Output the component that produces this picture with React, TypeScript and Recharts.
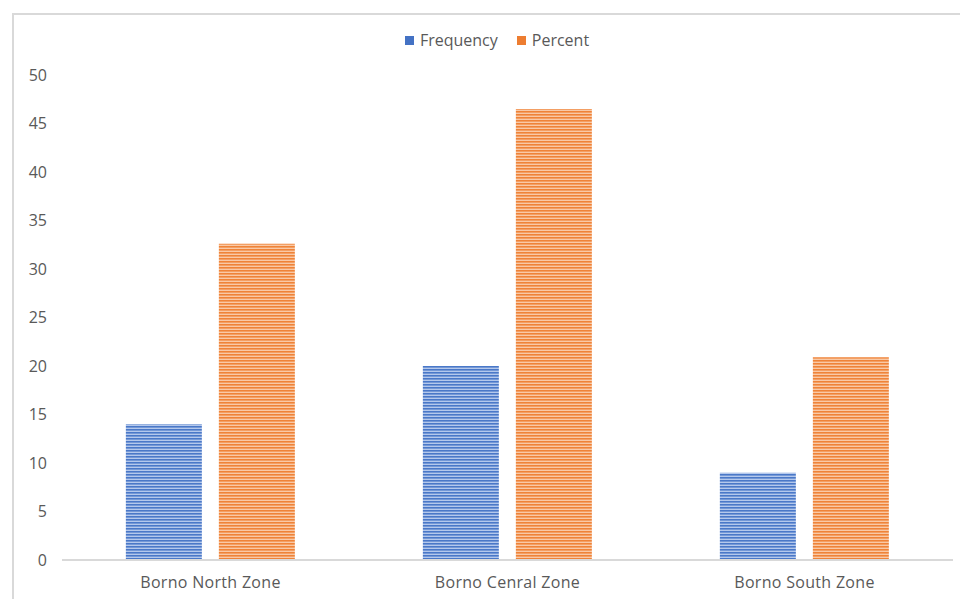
import { BarChart, Bar, XAxis, YAxis, Legend } from 'recharts';

const zones = ['Borno North Zone', 'Borno Cenral Zone', 'Borno South Zone'];
const frequency = [14, 20, 9];
const percent = [32.6, 46.5, 20.9];
const yTicks = [0, 5, 10, 15, 20, 25, 30, 35, 40, 45, 50];
const seriesNames = ['Frequency', 'Percent'];
const seriesColors = ['#4472c4', '#ed7d31'];

const data = zones.map((zone, i) => ({
  zone,
  Frequency: frequency[i],
  Percent: percent[i],
}));

const font = 'Open Sans, Liberation Sans, sans-serif';

function LegendBox() {
  return (
    <div style={{ display: 'flex', justifyContent: 'center', paddingLeft: 34, fontFamily: font, fontSize: 16, color: '#595959', lineHeight: '20px' }}>
      {seriesNames.map((name, i) => (
        <div key={name} style={{ display: 'flex', alignItems: 'center', marginRight: i === 0 ? 19 : 0 }}>
          <span style={{ display: 'inline-block', width: 9, height: 9, background: seriesColors[i], marginRight: 6 }} />
          <span>{name}</span>
        </div>
      ))}
    </div>
  );
}

export default function App() {
  return (
    <div style={{ position: 'absolute', left: 0, top: 0, width: 960, height: 599, overflow: 'hidden', background: '#fff' }}>
      <div
        style={{
          position: 'absolute',
          left: 12,
          top: 13,
          width: 960,
          height: 600,
          border: '2px solid #d9d9d9',
          boxSizing: 'border-box',
        }}
      />
      <div style={{ position: 'absolute', left: 0, top: 0 }}>
        <BarChart
          width={960}
          height={599}
          data={data}
          margin={{ top: 75, right: 7, bottom: 9, left: 12 }}
          barCategoryGap="21.5%"
          barGap={17}
        >
          <defs>
            <pattern id="stripeBlue" width="4" height="3" patternUnits="userSpaceOnUse">
              <rect width="4" height="3" fill="#b4c8ec" />
              <rect width="4" height="1.6" fill="#4a78c8" />
            </pattern>
            <pattern id="stripeOrange" width="4" height="3" patternUnits="userSpaceOnUse">
              <rect width="4" height="3" fill="#f9c9a6" />
              <rect width="4" height="1.6" fill="#ef8338" />
            </pattern>
          </defs>
          <XAxis
            dataKey="zone"
            height={30}
            axisLine={{ stroke: '#d9d9d9', strokeWidth: 2 }}
            tickLine={false}
            tickMargin={11}
            tick={{ fill: '#595959', fontSize: 16, fontFamily: font, letterSpacing: 0.3 }}
          />
          <YAxis
            width={50}
            domain={[0, 50]}
            ticks={yTicks}
            axisLine={false}
            tickLine={false}
            tickSize={0}
            tickMargin={15}
            tick={{ fill: '#595959', fontSize: 16, fontFamily: font }}
          />
          <Legend
            verticalAlign="middle"
            align="center"
            wrapperStyle={{ top: 30, left: 0, width: 960 }}
            content={() => <LegendBox />}
          />
          <Bar dataKey="Frequency" fill="url(#stripeBlue)" isAnimationActive={false} />
          <Bar dataKey="Percent" fill="url(#stripeOrange)" isAnimationActive={false} />
        </BarChart>
      </div>
    </div>
  );
}
